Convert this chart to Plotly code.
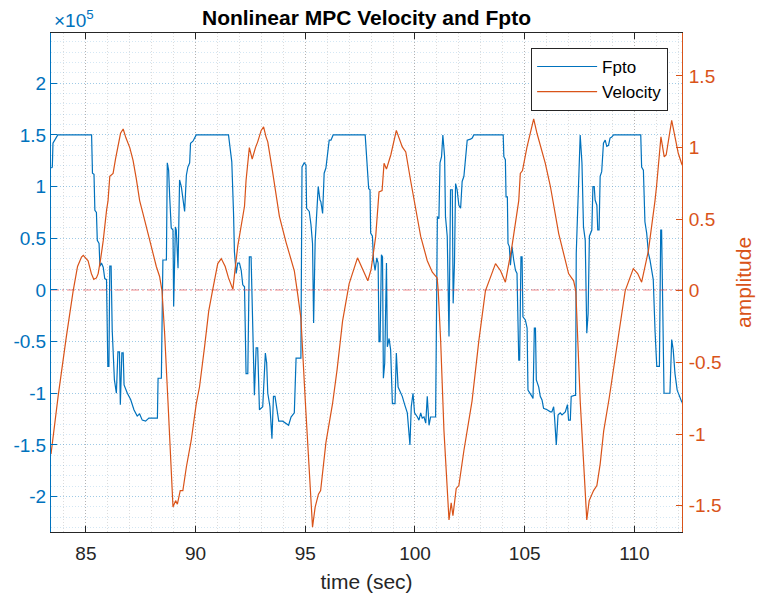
import numpy as np
import plotly.graph_objects as go

# ---------------- data ----------------
# Fpto (units of 1e5 N)
T_FPTO = [83.43, 83.47, 83.50, 83.58, 83.68, 83.72, 85.26, 85.30, 85.37, 85.41, 85.48, 85.52, 85.60, 85.64, 85.71, 85.79,
          85.86, 85.94, 86.00, 86.05, 86.09, 86.15, 86.20, 86.30, 86.39, 86.46, 86.53, 86.57, 86.64, 86.70, 86.74, 86.89,
          87.04, 87.19, 87.34, 87.45, 87.57, 87.72, 87.87, 88.17, 88.26,
          88.29, 88.44, 88.51, 88.67, 88.71, 88.77, 88.82, 88.89, 88.97, 89.00, 89.08, 89.12, 89.20, 89.27, 89.35, 89.42,
          89.50, 89.58, 89.65, 89.73, 89.77, 89.88, 89.98, 90.03, 91.50, 91.59, 91.65, 91.73, 91.77, 91.85, 91.92, 92.00,
          92.08, 92.15, 92.23, 92.26, 92.30, 92.38, 92.45, 92.53, 92.61, 92.68, 92.76, 92.83, 92.91, 93.06,
          93.18, 93.24, 93.29, 93.39, 93.48, 93.55, 93.62, 93.70, 93.79, 93.97, 94.12, 94.24, 94.35, 94.50, 94.58, 94.80,
          94.85, 94.95, 95.03, 95.06, 95.18, 95.26, 95.33, 95.38, 95.45, 95.52, 95.59, 95.67, 95.71, 95.79, 95.86, 95.94,
          96.01, 96.09, 96.17, 96.27, 97.73, 97.79,
          97.83, 97.89, 97.95, 97.98, 98.06, 98.11, 98.18, 98.26, 98.32, 98.36, 98.41, 98.47, 98.52, 98.56, 98.62, 98.70,
          98.74, 98.82, 98.89, 98.97, 99.09, 99.15, 99.23, 99.30, 99.42, 99.53, 99.65, 99.77, 99.83, 99.91, 99.98, 100.11,
          100.18, 100.26, 100.33, 100.41, 100.49, 100.56, 100.64, 100.71, 100.94, 101.02, 101.09, 101.14, 101.21, 101.27,
          101.35, 101.39, 101.47, 101.55, 101.62, 101.70, 101.74, 101.80, 101.85, 101.92, 102.00, 102.08, 102.15, 102.23,
          102.30, 102.38, 102.53,
          102.61, 102.68, 104.02, 104.05, 104.12, 104.15, 104.21, 104.24, 104.30, 104.35, 104.42, 104.50, 104.58, 104.65,
          104.73, 104.77, 104.83, 104.88, 104.92, 105.03, 105.11, 105.15, 105.26, 105.33, 105.38, 105.44, 105.49, 105.53,
          105.64, 105.71, 105.79, 105.86, 106.02, 106.17, 106.24, 106.32, 106.36, 106.44, 106.52, 106.62, 106.70, 106.85,
          106.95, 107.00, 107.08, 107.12, 107.27, 107.32,
          107.35, 107.38, 107.42, 107.48, 107.53, 107.61, 107.68, 107.76, 107.83, 107.89, 107.95, 108.06, 108.11, 108.17,
          108.21, 108.29, 108.33, 108.39, 108.44, 108.51, 108.59, 108.67, 108.74, 108.82, 108.89, 108.97, 109.05, 110.29,
          110.33, 110.41, 110.48, 110.56, 110.64, 110.71, 110.79, 110.86, 110.94, 111.02, 111.14, 111.20, 111.24, 111.29,
          111.35, 111.62, 111.70, 111.77, 111.85, 111.95, 112.05, 112.17]
FPTO_E5 = [1.18, 1.19, 1.42, 1.45, 1.49, 1.50, 1.50, 1.13, 1.12, 0.77, 0.75, 0.48, 0.45, 0.23, 0.26, 0.22,
           0.11, 0.10, -0.74, -0.74, 0.23, 0.23, -0.39, -0.87, -1.00, -0.60, -0.60, -1.11, -0.61, -0.61, -0.92, -1.00,
           -1.06, -1.16, -1.22, -1.20, -1.26, -1.27, -1.24, -1.24, -1.24,
           -0.855, -0.855, 0.29, 0.29, 1.23, 1.16, 0.90, 0.60, 0.58, -0.16, 0.61, 0.58, 0.21, 1.065, 1.00, 0.87,
           0.76, 1.11, 1.19, 1.23, 1.42, 1.44, 1.49, 1.50, 1.50, 1.37, 1.24, 0.74, 0.37, 0.16, 0.26, 0.26,
           0.19, 0.05, 0.03, -0.32, -0.81, -0.81, 0.32, 0.32, -0.32, -1.02, -0.56, -0.56, -1.16, -1.13,
           -0.61, -0.71, -1.00, -1.13, -1.44, -1.03, -1.03, -1.16, -1.27, -1.27, -1.29, -1.31, -1.23, -1.19, -0.66, -0.66,
           1.19, 1.23, 1.21, 0.79, 0.76, 0.63, 0.45, -0.32, 0.47, 0.74, 1.00, 0.87, 0.855, 0.74, 1.13, 1.18,
           1.32, 1.45, 1.45, 1.50, 1.50, 1.27,
           1.24, 0.98, 0.97, 0.55, 0.52, 0.29, 0.19, 0.31, 0.26, -0.50, -0.50, 0.34, 0.32, -0.855, -0.71, 0.26,
           -0.55, -0.47, -0.58, -1.10, -1.10, -0.61, -0.94, -0.97, -1.03, -1.11, -1.19, -1.50, -1.13, -1.00, -1.19, -1.23,
           -1.26, -1.19, -1.24, -1.23, -1.29, -1.03, -1.31, -1.23, -1.23, 0.71, 0.69, 1.23, 1.29, 1.50,
           1.29, 0.71, 0.52, -0.45, 0.97, 0.97, -0.13, 0.26, 1.03, 0.97, 0.82, 0.79, 1.05, 1.10,
           1.29, 1.45, 1.46,
           1.47, 1.50, 1.50, 1.29, 1.26, 0.90, 0.90, 0.45, 0.42, 0.24, 0.42, 0.29, 0.19, 0.16,
           -0.68, -0.68, 0.32, 0.32, -0.26, -0.29, -0.37, -0.97, -1.00, -1.03, -1.05, -0.37, -0.37, -0.87,
           -0.94, -1.03, -1.065, -1.145, -1.16, -1.18, -1.18, -1.13, -1.23, -1.50, -1.21, -1.19, -1.21, -1.18,
           -1.11, -1.26, -1.26, -1.03, -1.02, -1.02,
           0.355, 0.58, 0.76, 1.23, 1.50, 1.23, 0.61, 0.48, -0.42, -0.23, 0.52, 0.58, 1.00, 1.00,
           0.87, 0.82, 0.58, 0.58, 1.10, 1.145, 1.42, 1.45, 1.39, 1.40, 1.47, 1.48, 1.50, 1.50,
           1.19, 1.16, 0.66, 0.55, 0.355, 0.29, 0.19, 0.10, -0.39, -0.74, -0.74, 0.58, 0.58, -0.39,
           -1.00, -1.00, -0.48, -0.58, -0.81, -0.97, -1.02, -1.09]

# Velocity (amplitude)
T_VEL = [83.41, 83.74, 84.10, 84.42, 84.62, 84.80, 84.88, 85.10, 85.25, 85.36, 85.48, 85.56, 85.68, 85.79, 85.94, 86.01,
         86.09, 86.24, 86.35, 86.47, 86.58, 86.70, 86.82, 87.00, 87.15, 87.30, 87.45, 87.60, 87.76, 87.98, 88.21, 88.36,
         88.47, 88.59, 88.74, 88.85, 88.97, 89.09, 89.17, 89.30, 89.42, 89.58, 89.80, 90.03, 90.18, 90.41, 90.60, 90.77,
         91.01, 91.17, 91.35, 91.50, 91.70, 91.80, 91.92, 92.23, 92.30, 92.45, 92.58, 92.73, 92.83, 92.99, 93.10, 93.21,
         93.29, 93.51, 93.67, 93.82, 94.12, 94.50, 94.65, 94.80, 95.00, 95.33, 95.45, 95.60, 95.70, 95.94, 96.24, 96.45,
         96.70, 96.92, 97.00, 97.38, 97.60, 97.85, 98.00, 98.21, 98.36, 98.50, 98.59, 98.70, 98.90, 99.15, 99.42, 99.58,
         99.80, 100.05, 100.26, 100.56, 100.79, 101.01, 101.06, 101.17, 101.27, 101.32, 101.55, 101.65, 101.73, 101.88,
         102.00, 102.23, 102.60, 102.91, 103.21, 103.67, 103.90, 104.12, 104.42, 104.73, 104.80, 104.90, 105.10, 105.41,
         105.56, 105.94, 106.17, 106.55, 107.00, 107.23, 107.33, 107.42, 107.53, 107.83, 107.94, 108.14, 108.29, 108.44,
         108.60, 108.85, 109.20, 109.58, 109.95, 110.15, 110.33, 110.64, 110.94, 111.01, 111.21, 111.36, 111.45, 111.70,
         111.85, 112.00, 112.17]
VEL = [-1.14, -0.73, -0.33, 0.00, 0.17, 0.236, 0.248, 0.21, 0.12, 0.08, 0.09, 0.12, 0.23, 0.35, 0.56, 0.63,
       0.80, 0.82, 0.92, 1.02, 1.10, 1.13, 1.07, 1.00, 0.91, 0.78, 0.63, 0.54, 0.45, 0.31, 0.17, 0.10,
       0.00, -0.30, -0.77, -1.15, -1.51, -1.465, -1.49, -1.395, -1.395, -1.23, -1.045, -0.79, -0.67, -0.39, -0.14, 0.00,
       0.19, 0.225, 0.17, 0.09, 0.01, 0.15, 0.31, 0.59, 0.77, 1.00, 0.92, 1.00, 1.04, 1.12, 1.145, 1.075,
       1.04, 0.83, 0.68, 0.52, 0.34, 0.14, -0.02, -0.19, -0.77, -1.65, -1.51, -1.42, -1.395, -1.06, -0.79, -0.55,
       -0.21, 0.00, 0.05, 0.23, 0.16, 0.07, 0.15, 0.38, 0.69, 0.70, 0.89, 0.85, 0.95, 1.12, 1.005, 0.97,
       0.77, 0.55, 0.38, 0.21, 0.13, 0.09, 0.00, -0.35, -0.77, -0.975, -1.60, -1.48, -1.57, -1.38,
       -1.36, -1.115, -0.77, -0.35, 0.00, 0.19, 0.14, 0.06, 0.31, 0.63, 0.82, 0.84, 1.00, 1.20,
       1.10, 0.89, 0.73, 0.40, 0.12, 0.07, 0.00, -0.30, -0.77, -1.60, -1.465, -1.395, -1.36, -1.21,
       -0.98, -0.75, -0.38, 0.00, 0.155, 0.12, 0.06, 0.28, 0.63, 0.73, 1.075, 0.935, 0.95, 1.19,
       1.075, 0.96, 0.88]

X_TICKS = [85, 90, 95, 100, 105, 110]
LEFT_TICKS_E5 = [-2, -1.5, -1, -0.5, 0, 0.5, 1, 1.5, 2]
LEFT_TICK_TEXT = ["-2", "-1.5", "-1", "-0.5", "0", "0.5", "1", "1.5", "2"]
RIGHT_TICKS = [-1.5, -1, -0.5, 0, 0.5, 1, 1.5]
RIGHT_TICK_TEXT = ["-1.5", "-1", "-0.5", "0", "0.5", "1", "1.5"]
X_RANGE = [83.41, 112.17]
LEFT_RANGE_E5 = [-2.343, 2.487]
RIGHT_RANGE = [-1.684, 1.80]

BLUE = "#0072BD"
ORANGE = "#D95319"
DARK = "#262626"
FONT = "Liberation Sans, Arial, Helvetica, sans-serif"

fpto = np.array(FPTO_E5) * 1e5
t_all = T_FPTO + T_VEL

fig = go.Figure()
fig.add_trace(go.Scatter(x=T_FPTO, y=fpto, name="Fpto", mode="lines",
                         line=dict(color=BLUE, width=1.2), yaxis="y"))
fig.add_trace(go.Scatter(x=[min(t_all), max(t_all)], y=[0, 0], mode="lines", showlegend=False,
                         line=dict(color="rgba(235,60,60,0.6)", width=1.1, dash="8px,3px,2px,3px"),
                         yaxis="y", hoverinfo="skip"))
fig.add_trace(go.Scatter(x=T_VEL, y=VEL, name="Velocity", mode="lines",
                         line=dict(color=ORANGE, width=1.2), yaxis="y2"))

fig.update_layout(
    width=757, height=597,
    margin=dict(l=51, r=75, t=33, b=65),
    paper_bgcolor="white", plot_bgcolor="white",
    font=dict(family=FONT, size=19, color=DARK),
    title=dict(text="<b>Nonlinear MPC Velocity and Fpto</b>", x=0.5, xref="paper",
               y=1 - 18 / 597, yref="container", yanchor="middle", xanchor="center",
               font=dict(size=21, color="black", family=FONT)),
    xaxis=dict(range=X_RANGE, tickvals=X_TICKS, ticktext=[str(v) for v in X_TICKS],
               ticks="inside", ticklen=6, tickcolor=DARK, tickfont=dict(size=19, color=DARK),
               ticklabelstandoff=4, automargin=False,
               showline=True, linecolor=DARK, linewidth=1, mirror="ticks",
               showgrid=True, gridcolor="rgba(38,38,38,0.22)", griddash="1px,2px", gridwidth=1,
               minor=dict(dtick=1, showgrid=True, gridcolor="rgba(38,38,38,0.16)", griddash="1px,2px", ticks=""),
               zeroline=False,
               title=dict(text="time (sec)", font=dict(size=21, color=DARK), standoff=11)),
    yaxis=dict(range=[v * 1e5 for v in LEFT_RANGE_E5], tickvals=[v * 1e5 for v in LEFT_TICKS_E5],
               ticktext=LEFT_TICK_TEXT, ticks="inside", ticklen=6, tickcolor=BLUE,
               tickfont=dict(size=19, color=BLUE), automargin=False,
               showline=True, linecolor=BLUE, linewidth=1,
               showgrid=True, gridcolor="rgba(0,114,189,0.25)", griddash="1px,2px", gridwidth=1,
               minor=dict(dtick=1e4, showgrid=True, gridcolor="rgba(0,114,189,0.17)", griddash="1px,2px", ticks=""),
               zeroline=False),
    yaxis2=dict(range=RIGHT_RANGE, tickvals=RIGHT_TICKS, ticktext=RIGHT_TICK_TEXT, overlaying="y", side="right",
                ticks="inside", ticklen=6, tickcolor=ORANGE, tickfont=dict(size=19, color=ORANGE),
                ticklabelstandoff=2, automargin=False,
                showline=True, linecolor=ORANGE, linewidth=1, showgrid=False, zeroline=False),
    legend=dict(x=0.978, xanchor="right", y=0.970, yanchor="top", bgcolor="white",
                bordercolor=DARK, borderwidth=1, font=dict(size=17, color="black"),
                itemwidth=60, tracegroupgap=0),
    showlegend=True,
    annotations=[
        dict(text="×10<sup>5</sup>", xref="paper", yref="paper", x=0, y=1, xanchor="left", yanchor="bottom",
             xshift=1, yshift=0, showarrow=False, font=dict(size=19, color=BLUE, family=FONT)),
        dict(text="amplitude", xref="paper", yref="paper", x=(744 - 51) / 631, y=0.499, textangle=-90,
             xanchor="center", yanchor="middle", showarrow=False, font=dict(size=21, color=ORANGE, family=FONT)),
    ],
)

fig.write_html("out.html")
